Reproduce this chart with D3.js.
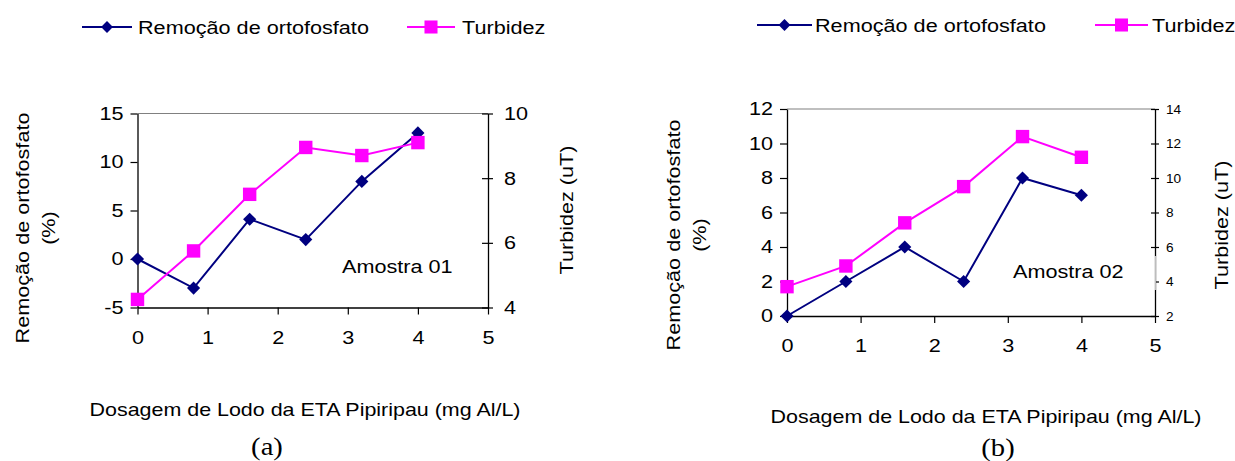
<!DOCTYPE html>
<html>
<head>
<meta charset="utf-8">
<script src="https://cdn.jsdelivr.net/npm/d3@7"></script>
<style>
  html, body { margin: 0; padding: 0; background: #fff; }
  svg { display: block; }
  text { fill: #000; }
</style>
</head>
<body>
<svg id="chart" width="1235" height="461"></svg>
<script>
// Dosagem de lodo (mg Al/L) used in both samples
const dosagem = [0, 0.8, 1.6, 2.4, 3.2, 4.0];

// Amostra 01
const remocaoA = [0, -3, 4.1, 2, 8, 13];
const turbidezA = [4.25, 5.75, 7.5, 8.95, 8.7, 9.1];

// Amostra 02
const remocaoB = [0, 2, 4, 2, 8, 7];
const turbidezB = [3.7, 4.9, 7.4, 9.5, 12.4, 11.2];

// Tick values
const xTicks = [0, 1, 2, 3, 4, 5];
const leftTicksA = [-5, 0, 5, 10, 15];
const rightTicksA = [4, 6, 8, 10];
const leftTicksB = [0, 2, 4, 6, 8, 10, 12];
const rightTicksB = [2, 4, 6, 8, 10, 12, 14];

const legendNames = ["Remoção de ortofosfato", "Turbidez"];
const yTitle = ["Remoção de ortofosfato", "(%)"];
const y2Title = "Turbidez (uT)";
const xTitle = "Dosagem de Lodo da ETA Pipiripau (mg Al/L)";

const NAVY = "#000080";
const MAGENTA = "#ff00ff";
const SANS = "'Liberation Sans', Arial, sans-serif";
const SERIF = "'Liberation Serif', 'Times New Roman', serif";
const SX = 1.17;   // horizontal widening of the chart lettering
const FS = 18.5;
const fmt = d => String(d);   // plain hyphen for negatives

const svg = d3.select("#chart");

// Text helper: widened glyphs, optional rotation
function label(g, str, x, y, o = {}) {
  const rot = o.rotate ? ` rotate(${o.rotate})` : "";
  return g.append("text")
    .attr("transform", `translate(${x},${y})${rot} scale(${o.sx || SX},1)`)
    .attr("text-anchor", o.anchor || "start")
    .style("font-size", (o.size || FS) + "px")
    .style("font-family", o.family || SANS)
    .text(str);
}

function widenTicks(axisG, sx, size) {
  axisG.selectAll(".tick text").each(function () {
    const t = d3.select(this);
    const x = +t.attr("x") || 0;
    t.attr("x", x / sx).attr("transform", `scale(${sx},1)`)
      .style("font-size", size + "px").style("font-family", SANS).attr("fill", "#000");
  });
}

const diamond = d3.symbol().type(d3.symbolDiamond2);
const square = d3.symbol().type(d3.symbolSquare);

function panel(p) {
  const g = svg.append("g");
  const x = d3.scaleLinear().domain([0, 5]).range([p.x0, p.x1]);
  const yL = d3.scaleLinear().domain(p.leftDomain).range([p.yBot, p.yTop]);
  const yR = d3.scaleLinear().domain(p.rightDomain).range([p.yBot, p.yTop]);

  // top edge of the plot area
  g.append("line")
    .attr("x1", p.x0).attr("x2", p.x1)
    .attr("y1", p.yTop).attr("y2", p.yTop)
    .attr("stroke", "#808080").attr("stroke-width", 1.2);

  // left axis
  const gl = g.append("g").attr("transform", `translate(${p.x0},0)`)
    .call(d3.axisLeft(yL).tickValues(p.leftTicks).tickFormat(fmt)
      .tickSize(7).tickSizeOuter(0).tickPadding(7));
  widenTicks(gl, SX, FS);

  // bottom axis
  const gb = g.append("g").attr("transform", `translate(0,${p.yBot})`)
    .call(d3.axisBottom(x).tickValues(xTicks).tickFormat(fmt)
      .tickSize(7).tickSizeOuter(0).tickPadding(16));
  widenTicks(gb, SX, FS);

  // right axis
  const gr = g.append("g").attr("transform", `translate(${p.x1},0)`)
    .call(d3.axisRight(yR).tickValues(p.rightTicks).tickFormat(fmt)
      .tickSize(p.rTickOut).tickSizeOuter(0).tickPadding(p.rPad));
  gr.selectAll(".tick line").attr("x1", -p.rTickIn);
  widenTicks(gr, p.rSX, p.rSize);

  [gl, gb, gr].forEach(a => {
    a.select(".domain").attr("stroke", "#000").attr("stroke-width", 1.3);
    a.selectAll(".tick line").attr("stroke", "#000").attr("stroke-width", 1.2);
  });

  if (p.gap) {
    // text box of the sample label overlapping the secondary axis
    g.append("rect").attr("x", p.x1 - p.rTickIn - 1).attr("y", p.gap[0])
      .attr("width", p.rTickIn + 1.7).attr("height", p.gap[1] - p.gap[0]).attr("fill", "#fff");
    g.append("line").attr("x1", p.x1).attr("x2", p.x1)
      .attr("y1", p.gap[0]).attr("y2", p.gap[1])
      .attr("stroke", "#c8c8c8").attr("stroke-width", 1);
  }

  // series
  const lineL = d3.line().x((d, i) => x(dosagem[i])).y(d => yL(d));
  const lineR = d3.line().x((d, i) => x(dosagem[i])).y(d => yR(d));

  g.append("path").datum(p.remocao).attr("d", lineL)
    .attr("fill", "none").attr("stroke", NAVY).attr("stroke-width", 2);
  g.selectAll(".dia").data(p.remocao).join("path")
    .attr("transform", (d, i) => `translate(${x(dosagem[i])},${yL(d)})`)
    .attr("d", diamond.size(110)).attr("fill", NAVY);

  g.append("path").datum(p.turbidez).attr("d", lineR)
    .attr("fill", "none").attr("stroke", MAGENTA).attr("stroke-width", 2);
  g.selectAll(".sq").data(p.turbidez).join("path")
    .attr("transform", (d, i) => `translate(${x(dosagem[i])},${yR(d)})`)
    .attr("d", square.size(180)).attr("fill", MAGENTA);

  // sample label
  label(g, p.sample, p.sampleX, p.sampleY);

  // axis titles
  label(g, yTitle[0], p.yTitleX, p.yTitleY, { rotate: -90, anchor: "middle" });
  label(g, yTitle[1], p.yTitleX + 26, p.yTitleY, { rotate: -90, anchor: "middle" });
  label(g, y2Title, p.y2TitleX, p.y2TitleY, { rotate: -90, anchor: "middle" });
  label(g, xTitle, p.xTitleX, p.xTitleY, { anchor: "middle", sx: 1.16 });
  label(g, p.tag, p.tagX, p.tagY, { anchor: "middle", size: 26, sx: 1.1, family: SERIF });

  // legend
  const lg = g.append("g");
  lg.append("line").attr("x1", p.leg[0]).attr("x2", p.leg[1])
    .attr("y1", p.legY).attr("y2", p.legY).attr("stroke", NAVY).attr("stroke-width", 2);
  lg.append("path").attr("transform", `translate(${(p.leg[0] + p.leg[1]) / 2},${p.legY})`)
    .attr("d", diamond.size(90)).attr("fill", NAVY);
  label(lg, legendNames[0], p.leg[2], p.legY + 7);
  lg.append("line").attr("x1", p.leg[3]).attr("x2", p.leg[4])
    .attr("y1", p.legY).attr("y2", p.legY).attr("stroke", MAGENTA).attr("stroke-width", 2);
  lg.append("path").attr("transform", `translate(${(p.leg[3] + p.leg[4]) / 2},${p.legY})`)
    .attr("d", square.size(170)).attr("fill", MAGENTA);
  label(lg, legendNames[1], p.leg[5], p.legY + 7);
}

panel({
  x0: 137.5, x1: 488, yTop: 113.5, yBot: 307.5,
  leftDomain: [-5, 15], rightDomain: [4, 10],
  leftTicks: leftTicksA, rightTicks: rightTicksA,
  remocao: remocaoA, turbidez: turbidezA,
  rTickIn: 6, rTickOut: 5, rPad: 11, rSize: FS, rSX: SX,
  sample: "Amostra 01", sampleX: 342, sampleY: 273,
  yTitleX: 29, yTitleY: 228, y2TitleX: 573, y2TitleY: 210,
  xTitleX: 305, xTitleY: 416, tag: "(a)", tagX: 267, tagY: 455,
  leg: [82, 132, 138, 407, 455, 462], legY: 27
});

panel({
  x0: 787, x1: 1155, yTop: 109, yBot: 316,
  leftDomain: [0, 12], rightDomain: [2, 14],
  leftTicks: leftTicksB, rightTicks: rightTicksB,
  remocao: remocaoB, turbidez: turbidezB,
  rTickIn: 4, rTickOut: 4, rPad: 7, rSize: 13, rSX: 1.05,
  gap: [256, 290],
  sample: "Amostra 02", sampleX: 1013, sampleY: 278,
  yTitleX: 680, yTitleY: 235, y2TitleX: 1228, y2TitleY: 225,
  xTitleX: 986, xTitleY: 423, tag: "(b)", tagX: 998, tagY: 456,
  leg: [757, 812, 815, 1095, 1148, 1152], legY: 25
});
</script>
</body>
</html>
